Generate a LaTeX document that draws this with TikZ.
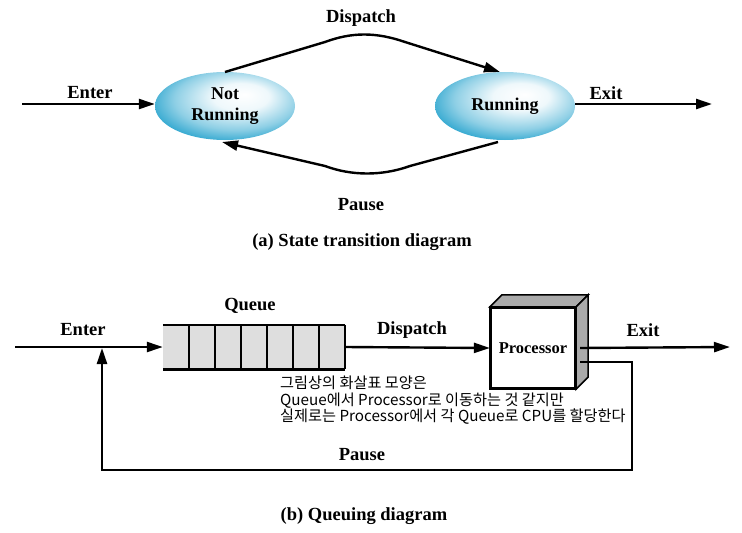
\documentclass[tikz,border=0pt]{standalone}
\usepackage{fontspec}
\setmainfont{Liberation Serif}
\newfontfamily\krfont{Noto Sans CJK KR}
\usetikzlibrary{arrows.meta,shapes.geometric,calc}
\definecolor{statecyan}{RGB}{50,168,208}
\definecolor{qgray}{RGB}{222,222,222}
\definecolor{pgray}{RGB}{170,170,170}
\pgfdeclareradialshading{stateshade}{\pgfpoint{0.25cm}{0.3cm}}{%
  color(0bp)=(white); color(10bp)=(white!92!statecyan); color(22bp)=(white!45!statecyan);
  color(30bp)=(statecyan); color(50bp)=(statecyan)}
\begin{document}
\begin{tikzpicture}[x=1pt,y=-1pt,
  lbl/.style={font=\fontsize{18.5}{20}\selectfont\bfseries, inner sep=0pt},
  conn/.style={line width=2.4pt, -{Triangle[length=16pt,width=10pt]}},
  state/.style={ellipse, minimum width=140pt, minimum height=68pt, inner sep=0pt,
    shading=stateshade, align=center,
    font=\fontsize{18}{21}\selectfont\bfseries}]
\useasboundingbox (0,0) rectangle (742,533);

% ---------- (a) ----------
\node[state] (nr) at (225,106) {Not\\Running};
\node[state] (run) at (505,106) {Running};
\coordinate (enterA) at (22,104);
\coordinate (exitA) at (712,104);
\coordinate (nrtop) at (225,72);
\coordinate (runtop) at (500,72);
\coordinate (nrbot) at (222,142);
\coordinate (runbot) at (498,142);

\draw[conn] (enterA) -- (nr.west |- enterA);
\draw[conn] (run.east |- exitA) -- (exitA);
\draw[conn] (nrtop) -- (325,42) .. controls (352,32) and (376,32) .. (405,42) -- (runtop);
\draw[conn] (runbot) -- (410,166) .. controls (382,176) and (352,176) .. (325,166) -- (nrbot);

\node[lbl] (lenterA) at (90,93) {Enter};
\node[lbl] (lexitA) at (606,93) {Exit};
\node[lbl] (ldispA) at (361,18) {Dispatch};
\node[lbl] (lpauseA) at (361,205) {Pause};
\node[lbl] (capA) at (362,242) {(a) State transition diagram};

% ---------- (b) ----------
\node[fill=qgray, minimum width=182pt, minimum height=44pt, inner sep=0pt] (queue) at (254,347) {};
\foreach \i in {1,...,7} {
  \draw[line width=1.4pt] ($(queue.north west)+(26*\i,0)$) -- ($(queue.south west)+(26*\i,0)$);
}
\draw[line width=2.6pt] (queue.north west) -- (queue.north east);
\draw[line width=2.6pt] (queue.south west) -- (queue.south east);

\node[draw, line width=2.2pt, fill=white, minimum width=84pt, minimum height=80pt, inner sep=0pt,
      font=\fontsize{16.5}{18}\selectfont\bfseries] (proc) at (533,348) {Processor};
\draw[line width=1.6pt, fill=pgray] (proc.north west) -- ++(12,-12) -- ($(proc.north east)+(12,-12)$) -- (proc.north east) -- cycle;
\draw[line width=1.6pt, fill=pgray] (proc.north east) -- ++(12,-12) -- ($(proc.south east)+(12,-12)$) -- (proc.south east) -- cycle;
\draw[line width=2.2pt] (proc.north west) rectangle (proc.south east);

\coordinate (enterB) at (15,347);
\coordinate (exitB) at (730,347);
\coordinate (pstart) at (580,362);
\coordinate (pr) at (632,470);
\coordinate (pl) at (102,470);
\coordinate (pend) at (102,348);

\draw[conn] (enterB) -- (queue.west);
\draw[conn] (queue.east) -- (proc.west);
\draw[conn] ($(proc.east)+(4,0)$) -- (exitB);
\draw[conn] (pstart) -| (pr) -- (pl) -- (pend);

\node[lbl] (lqueue) at (250,306) {Queue};
\node[lbl] (lenterB) at (83,330) {Enter};
\node[lbl] (ldispB) at (412,330) {Dispatch};
\node[lbl] (lexitB) at (643,330) {Exit};
\node[lbl] (lpauseB) at (362,455) {Pause};
\node[lbl] (capB) at (364,516) {(b) Queuing diagram};

\node[anchor=north west, inner sep=0pt, align=left,
      font=\krfont\fontsize{15.2}{16.6}\selectfont] (note) at (280,376)
  {그림상의 화살표 모양은\\Queue에서 Processor로 이동하는 것 같지만\\실제로는 Processor에서 각 Queue로 CPU를 할당한다};
\end{tikzpicture}
\end{document}
